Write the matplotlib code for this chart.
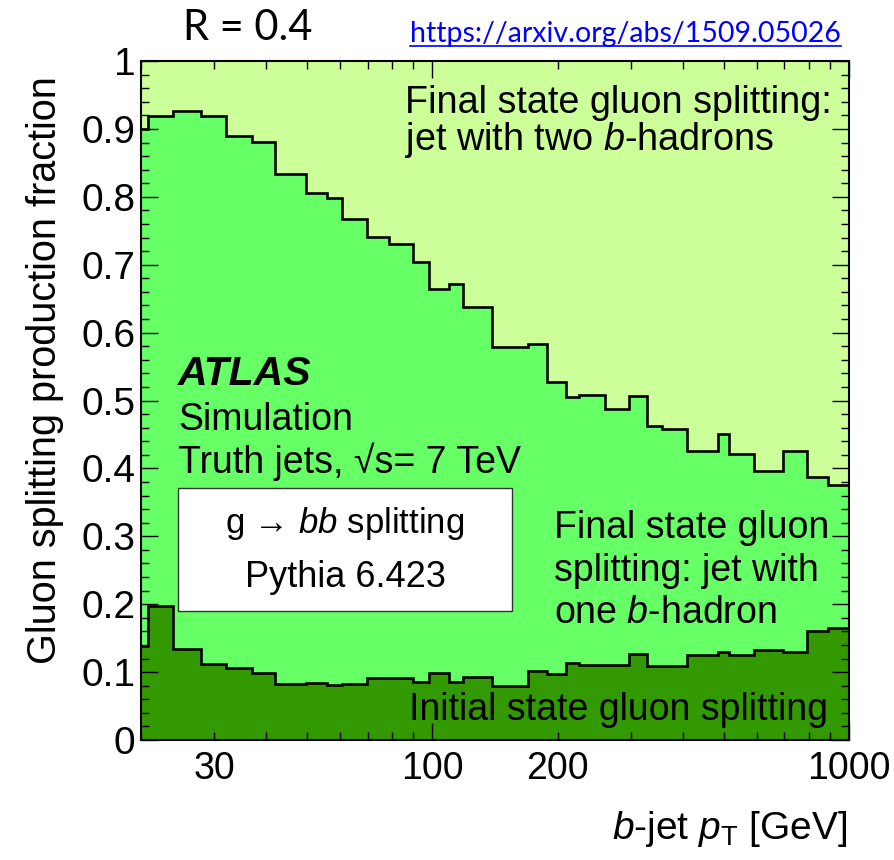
import numpy as np
import matplotlib
matplotlib.use("Agg")
import matplotlib.pyplot as plt
from matplotlib.ticker import FixedLocator, FuncFormatter, MultipleLocator
from matplotlib.patches import Rectangle
from matplotlib.lines import Line2D

plt.rcParams["font.family"] = ["Liberation Sans", "DejaVu Sans"]
plt.rcParams["mathtext.fontset"] = "custom"
plt.rcParams["mathtext.rm"] = "Liberation Sans"
plt.rcParams["mathtext.it"] = "Liberation Sans:italic"
plt.rcParams["mathtext.bf"] = "Liberation Sans:bold"

# bin edges, b-jet pT [GeV]
pt_edges = [20, 20.8, 23.9, 27.8, 32.0, 36.9, 41.9, 49.7, 55.9, 60.7, 69.8,
            78.6, 89.7, 98.0, 109.4, 118.8, 139.4, 170.0, 188.9, 209.8, 225.0,
            259.6, 296.0, 326.7, 356.0, 408.6, 484.8, 514.0, 593.0, 696.0,
            794.6, 889.0, 1000]

# production fractions per bin (stacked bottom -> top)
initial_state = [0.139, 0.198, 0.134, 0.112, 0.106, 0.098, 0.083, 0.084,
                 0.081, 0.083, 0.091, 0.091, 0.085, 0.098, 0.085, 0.093,
                 0.079, 0.101, 0.097, 0.113, 0.111, 0.111, 0.127, 0.109,
                 0.109, 0.125, 0.129, 0.125, 0.132, 0.129, 0.160, 0.165]
final_one_b = [0.761, 0.721, 0.792, 0.807, 0.783, 0.783, 0.750, 0.722,
               0.717, 0.685, 0.650, 0.639, 0.619, 0.567, 0.587, 0.545,
               0.500, 0.482, 0.430, 0.392, 0.397, 0.376, 0.380, 0.354,
               0.349, 0.300, 0.322, 0.296, 0.264, 0.296, 0.228, 0.210]
final_two_b = [0.100, 0.081, 0.074, 0.081, 0.111, 0.119, 0.167, 0.194,
               0.202, 0.232, 0.259, 0.270, 0.296, 0.335, 0.328, 0.362,
               0.421, 0.417, 0.473, 0.495, 0.492, 0.513, 0.493, 0.537,
               0.542, 0.575, 0.549, 0.579, 0.604, 0.575, 0.612, 0.625]

xtick_labels = [30, 100, 200, 1000]
xtick_minor = [20, 30, 40, 50, 60, 70, 80, 90, 200, 300, 400, 500, 600, 700, 800, 900]
ytick_values = [0, 0.1, 0.2, 0.3, 0.4, 0.5, 0.6, 0.7, 0.8, 0.9, 1.0]
ytick_labels = ["0", "0.1", "0.2", "0.3", "0.4", "0.5", "0.6", "0.7", "0.8", "0.9", "1"]

layer_colors = ["#339900", "#66ff66", "#ccff99"]

fig = plt.figure(figsize=(8.95, 8.6), dpi=100)
ax = fig.add_axes([0.1575, 0.1395, 0.7911, 0.7895])

# stacked step histograms
bottom = np.zeros(len(initial_state))
for vals, col in zip([initial_state, final_one_b, final_two_b], layer_colors):
    top = bottom + np.array(vals)
    ax.stairs(top, pt_edges, baseline=bottom, fill=True, color=col, lw=0)
    bottom = top

# black outlines between the layers
cum = np.cumsum([initial_state, final_one_b], axis=0)
for c in cum:
    ax.stairs(c, pt_edges, baseline=None, color="black", lw=1.9)

ax.set_xscale("log")
ax.set_xlim(20, 1000)
ax.set_ylim(0, 1)

def xfmt(v, pos):
    iv = int(round(v))
    return str(iv) if iv in xtick_labels else ""

ax.xaxis.set_major_locator(FixedLocator([100, 1000]))
ax.xaxis.set_minor_locator(FixedLocator(xtick_minor))
ax.xaxis.set_major_formatter(FuncFormatter(xfmt))
ax.xaxis.set_minor_formatter(FuncFormatter(xfmt))
ax.yaxis.set_major_locator(FixedLocator(ytick_values))
ax.set_yticklabels(ytick_labels)
ax.yaxis.set_minor_locator(MultipleLocator(0.02))

ax.set_axisbelow(False)
ax.tick_params(which="both", direction="in", top=True, right=True, width=1.0)
ax.tick_params(which="major", length=12)
ax.tick_params(which="minor", length=5.5)
ax.tick_params(axis="x", which="both", pad=8, labelsize=27)
ax.tick_params(axis="y", which="both", pad=4, labelsize=28)
for s in ax.spines.values():
    s.set_linewidth(1.5)

# labels
fig.text(45 / 895, 1 - 370 / 860, "Gluon splitting production fraction",
         rotation=90, ha="center", va="center", fontsize=28.5)
fig.text(847 / 895, 1 - 839 / 860, r"$b$-jet $p_{\mathrm{T}}$ [GeV]",
         ha="right", va="baseline", fontsize=28)

# annotations
ax.text(0.3729, 0.9234, "Final state gluon splitting:", fontsize=27.2,
        va="baseline", transform=ax.transAxes)
ax.text(0.3729, 0.8689, r"jet with two $b$-hadrons", fontsize=27.2,
        va="baseline", transform=ax.transAxes)

ax.text(0.0523, 0.5228, "ATLAS", fontsize=29.5, fontweight="bold",
        fontstyle="italic", va="baseline", transform=ax.transAxes)
ax.text(0.0523, 0.4566, "Simulation", fontsize=27, va="baseline",
        transform=ax.transAxes)
ax.text(0.0523, 0.3937, "Truth jets, \u221As= 7 TeV", fontsize=27,
        va="baseline", transform=ax.transAxes)

ax.add_patch(Rectangle((0.0527, 0.1904), 0.4709, 0.1803, transform=ax.transAxes,
                       facecolor="white", edgecolor="#333333", lw=1, zorder=3))
ax.text(0.2881, 0.3044, "g \u2192 $bb$ splitting", fontsize=25,
        ha="center", va="baseline", transform=ax.transAxes, zorder=4)
ax.text(0.2881, 0.2249, "Pythia 6.423", fontsize=26, ha="center",
        va="baseline", transform=ax.transAxes, zorder=4)

ax.text(0.5833, 0.2970, "Final state gluon", fontsize=27, va="baseline",
        transform=ax.transAxes)
ax.text(0.5833, 0.2346, "splitting: jet with", fontsize=27, va="baseline",
        transform=ax.transAxes)
ax.text(0.5833, 0.1719, r"one $b$-hadron", fontsize=27, va="baseline",
        transform=ax.transAxes)

ax.text(0.9703, 0.0295, "Initial state gluon splitting", fontsize=27,
        ha="right", va="baseline", transform=ax.transAxes)

# header
fig.text(183 / 895, 1 - 40 / 860, "R = 0.4", family=["Lato", "DejaVu Sans"],
         fontsize=30, va="baseline")
link = fig.text(410 / 895, 1 - 42 / 860, "https://arxiv.org/abs/1509.05026",
                family=["Lato", "DejaVu Sans"], fontsize=20.5, color="#0000ff",
                va="baseline")
fig.canvas.draw()
bb = link.get_window_extent().transformed(fig.transFigure.inverted())
uy = 1 - 46 / 860
fig.add_artist(Line2D([bb.x0, bb.x1], [uy, uy], transform=fig.transFigure,
                      color="#0000ff", lw=1.2))

fig.savefig("out.png", dpi=100)
